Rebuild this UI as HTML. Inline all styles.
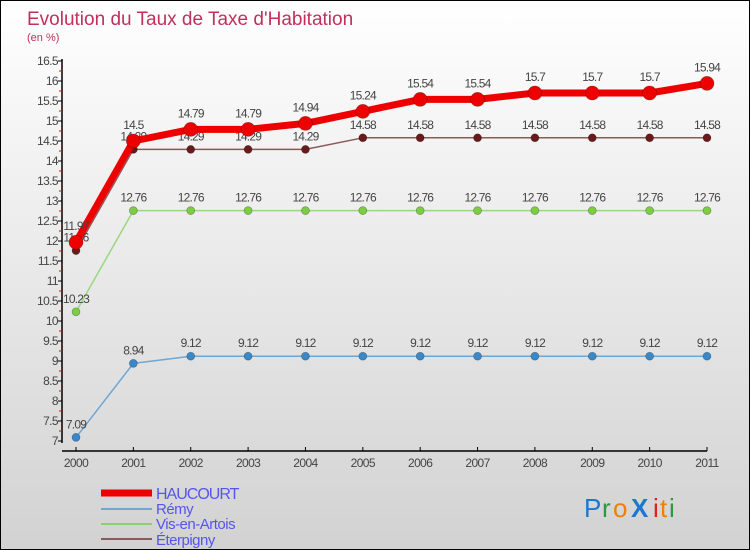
<!DOCTYPE html>
<html><head><meta charset="utf-8"><style>
body{margin:0;}
#c{width:750px;height:550px;position:relative;box-sizing:border-box;border:1px solid #000;background:linear-gradient(#ffffff,#d2d2d2);font-family:"Liberation Sans",sans-serif;overflow:hidden;}
</style></head><body>
<div id="c">
<svg id="s" width="748" height="548" style="position:absolute;left:0;top:0">
<text x="26" y="24" font-size="19" fill="#c0305a">Evolution du Taux de Taxe d'Habitation</text>
<text x="26" y="40" font-size="11" fill="#c0305a">(en %)</text>
<g id="axes"></g><g id="series"></g>
<g>
<line x1="100" y1="492" x2="151" y2="492" stroke="#e00" stroke-width="7"/>
<text x="155" y="498" font-size="16" fill="#5555ee" letter-spacing="-1">HAUCOURT</text>
<line x1="100" y1="508" x2="151" y2="508" stroke="#6ea6d4" stroke-width="2"/>
<text x="155" y="513" font-size="15" fill="#5555ee" letter-spacing="-0.5">Rémy</text>
<line x1="100" y1="523" x2="151" y2="523" stroke="#8cd070" stroke-width="2"/>
<text x="155" y="528" font-size="15" fill="#5555ee" letter-spacing="-0.5">Vis-en-Artois</text>
<line x1="100" y1="538" x2="151" y2="538" stroke="#8a5a5a" stroke-width="2"/>
<text x="155" y="544" font-size="15" fill="#5555ee" letter-spacing="-0.5">Éterpigny</text>
</g>
<g font-size="26" font-family="Liberation Sans, sans-serif">
<text x="583" y="516" fill="#1a78d0">P</text><text x="601" y="516" fill="#2a9a3a">r</text><text x="612" y="516" fill="#f08000">o</text><text x="630" y="516" fill="#1a78d0" font-weight="bold">X</text><text x="652" y="516" fill="#e02020">i</text><text x="659" y="516" fill="#f08000">t</text><text x="668" y="516" fill="#2a9a3a">i</text>
</g>
</svg>
</div>
<script>
const years=[2000,2001,2002,2003,2004,2005,2006,2007,2008,2009,2010,2011];
const haucourt=[11.97,14.5,14.79,14.79,14.94,15.24,15.54,15.54,15.7,15.7,15.7,15.94];
const remy=[7.09,8.94,9.12,9.12,9.12,9.12,9.12,9.12,9.12,9.12,9.12,9.12];
const visEnArtois=[10.23,12.76,12.76,12.76,12.76,12.76,12.76,12.76,12.76,12.76,12.76,12.76];
const eterpigny=[11.76,14.29,14.29,14.29,14.29,14.58,14.58,14.58,14.58,14.58,14.58,14.58];
const yTicks=[7,7.5,8,8.5,9,9.5,10,10.5,11,11.5,12,12.5,13,13.5,14,14.5,15,15.5,16,16.5];
const NS='http://www.w3.org/2000/svg';
const xS=i=>75+i*(706-75)/(years.length-1);
const yS=v=>440-(v-7)*40;
function mk(t,a,p){const e=document.createElementNS(NS,t);for(const k in a)e.setAttribute(k,a[k]);p.appendChild(e);return e;}
const ax=document.getElementById('axes');
let l=mk('line',{x1:61,y1:58,x2:61,y2:442,stroke:'#000','stroke-width':1.5},ax);


l=mk('line',{x1:61,y1:450,x2:706,y2:450,stroke:'#000','stroke-width':1.5},ax);


yTicks.forEach(v=>{
 mk('line',{x1:57,y1:yS(v),x2:61,y2:yS(v),stroke:'#000'},ax);
 if(v<16.5) mk('line',{x1:58,y1:yS(v+0.25),x2:61,y2:yS(v+0.25),stroke:'#e00'},ax);
 const t=mk('text',{x:57,y:yS(v)+4,'font-size':12,fill:'#444','text-anchor':'end','letter-spacing':'-0.6'},ax);
 t.textContent=v;
 
 
});
years.forEach((y,i)=>{
 mk('line',{x1:xS(i),y1:446,x2:xS(i),y2:450,stroke:'#000'},ax);
 const t=mk('text',{x:xS(i),y:466,'font-size':12,fill:'#444','text-anchor':'middle','letter-spacing':'-0.6'},ax);
 t.textContent=y;
 
 
});
const sg=document.getElementById('series');
function draw(vals,name,color,w,r,dot){
 const g=mk('g',{},sg);
 
 
 mk('polyline',{points:vals.map((v,i)=>xS(i)+','+yS(v)).join(' '),fill:'none',stroke:color,'stroke-width':w,'stroke-linejoin':'round'},g);
 vals.forEach((v,i)=>{
  const c=mk('circle',{cx:xS(i),cy:yS(v),r:r,fill:dot,stroke:'rgba(0,0,0,0.3)','stroke-width':0.7},g);
  
  
  const t=mk('text',{x:xS(i),y:yS(v)-(r+5),'font-size':12,fill:'#444','text-anchor':'middle','letter-spacing':'-0.8'},g);
  t.textContent=v;
  
  
 });
}
draw(remy,'remy','#6ea6d4',1.5,4,'#3a88c8');
draw(visEnArtois,'vis-en-artois','#9ad880',1.5,4,'#7ccc44');
draw(eterpigny,'eterpigny','#8a5a5a',1.5,4,'#6a1a1a');
draw(haucourt,'haucourt','#ee0000',7,7,'#ee0000');
</script>
</body></html>
